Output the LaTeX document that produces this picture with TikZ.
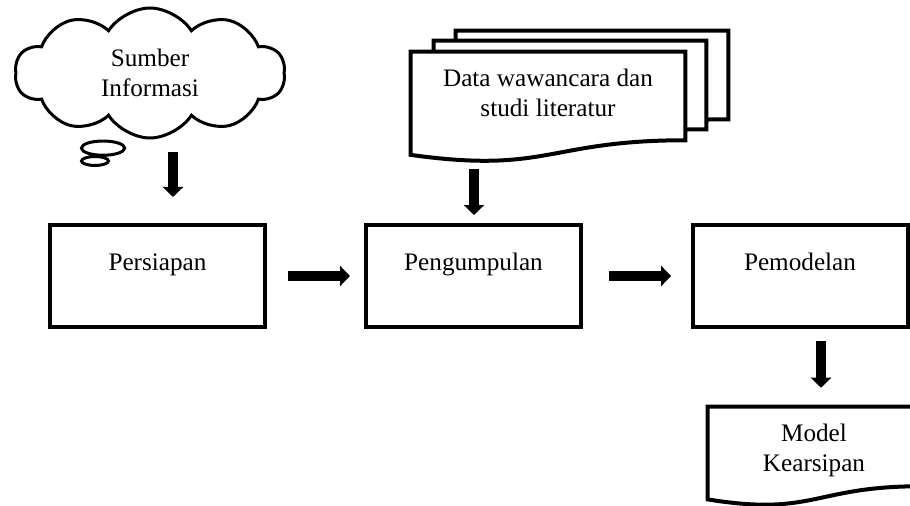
\documentclass[tikz,border=0pt]{standalone}
\usepackage{fontspec}
\setmainfont{Liberation Serif}
\usepackage{tikz}
\usetikzlibrary{shapes,shapes.callouts,arrows.meta,calc}

\begin{document}
\begin{tikzpicture}[x=0.75pt, y=-0.75pt,
        font=\fontsize{18.9}{22.5}\selectfont,
        box/.style={draw, line width=3pt, rectangle, inner sep=0pt,
                minimum width=161.25pt, text height=33.75pt, text depth=42.75pt},
        doc/.style={inner sep=0pt},
        docline/.style={draw, fill=white, line width=3pt},
        blockarrow/.style={line width=7pt, -{Triangle[length=7.5pt,width=15pt]}}]

        % page size, the last document runs over the right edge
        \clip (0,0) rectangle (910,506);

        % Function to draw a document with a wavy bottom
        \newcommand{\drawDoc}[4]{
            % Argument #1: name, #2: width, #3: height, #4: text
            \node[doc, minimum width=#2, minimum height=#3] (#1) at (#1pos) {};
            \draw[docline] (#1.north west) -- (#1.north east) -- (#1.south east)
                .. controls (#1.south) and ($(#1.north)!1.382!(#1.south)$)
                .. ($(#1.north west)!1.165!(#1.south west)$) -- cycle;
            \node[align=center] (#1-text) at ($(#1)+(0,\textShift)$) {#4};
        }

        % Sources
        \node[  cloud callout,
                draw,
                line width=2.25pt,
                cloud puffs=10,
                cloud puff arc=115,
                cloud ignores aspect,
                minimum width=202.5pt,
                minimum height=97.5pt,
                align=center,
                callout absolute pointer={(95,161)},
                callout pointer segments=2,
                callout pointer start size=.22 of callout,
                callout pointer end size=.1 of callout] (sumber) at (150,73)
        {Sumber\\Informasi};

        \def\textShift{-3}
        \coordinate (dataCpos) at (592,75);
        \coordinate (dataBpos) at (570,85);
        \coordinate (datapos) at (548,96);
        \drawDoc{dataC}{204pt}{66pt}{}
        \drawDoc{dataB}{204pt}{66pt}{}
        \drawDoc{data}{205.5pt}{66pt}{Data wawancara dan\\studi literatur}

        % Steps
        \node[box] (persiapan) at (157.5,276) {Persiapan};
        \node[box] (pengumpulan) at (473.5,276) {Pengumpulan};
        \node[box] (pemodelan) at (800,276) {Pemodelan};

        % Result
        \def\textShift{4}
        \coordinate (modelpos) at (814,446.5);
        \drawDoc{model}{159pt}{59.25pt}{Model\\Kearsipan}

        % Arrows
        \coordinate (sumberOut) at (173,152);
        \coordinate (dataOut) at (474,169);
        \coordinate (pemodelanOut) at (821,341);

        \draw[blockarrow, shorten >=19.5pt] (sumberOut) -- (sumberOut |- persiapan.north);
        \draw[blockarrow, shorten >=6pt] (dataOut) -- (dataOut |- pengumpulan.north);
        \draw[blockarrow, shorten <=15.75pt, shorten >=10.5pt] (persiapan) -- (pengumpulan);
        \draw[blockarrow, shorten <=19.5pt, shorten >=14.6pt] (pengumpulan) -- (pemodelan);
        \draw[blockarrow, shorten >=14.25pt] (pemodelanOut) -- (pemodelanOut |- model.north);

\end{tikzpicture}
\end{document}
